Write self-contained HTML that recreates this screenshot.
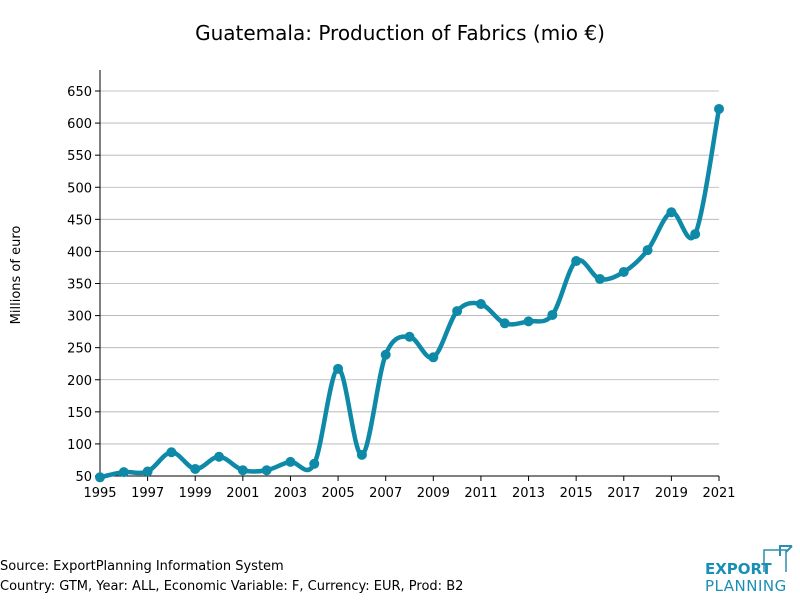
<!DOCTYPE html>
<html><head><meta charset="utf-8"><style>
body{margin:0;background:#fff;font-family:"DejaVu Sans","Liberation Sans",sans-serif;}
svg text{font-family:"DejaVu Sans","Liberation Sans",sans-serif;}
</style></head><body>
<svg width="800" height="600" xmlns="http://www.w3.org/2000/svg" id="chart">
<text x="400" y="40" text-anchor="middle" font-size="20">Guatemala: Production of Fabrics (mio €)</text>
<text transform="translate(20,275) rotate(-90)" text-anchor="middle" font-size="13">Millions of euro</text>
<g id="grid"></g><g id="axes"></g><g id="series"></g>
<text x="0" y="570" font-size="13">Source: ExportPlanning Information System</text>
<text x="0" y="590" font-size="13">Country: GTM, Year: ALL, Economic Variable: F, Currency: EUR, Prod: B2</text>
<g>
<path d="M764 572 V550 H786 V572" fill="none" stroke="#2a8fb0" stroke-width="1.5"/>
<path d="M780 556 V546 H792 M786 552 L792 546" fill="none" stroke="#2a8fb0" stroke-width="2"/>
<text x="705" y="574" font-size="15" font-weight="bold" fill="#1a8fb5">EXPORT</text>
<text x="705" y="591" font-size="15" fill="#1a8fb5" letter-spacing="0.5">PLANNING</text>
</g>
</svg>
<script>
const years=[1995,1996,1997,1998,1999,2000,2001,2002,2003,2004,2005,2006,2007,2008,2009,2010,2011,2012,2013,2014,2015,2016,2017,2018,2019,2020,2021];
const values=[48,56,57,87,61,80,59,59,72,69,217,83,239,267,235,307,318,288,291,301,385,357,368,402,461,427,622];
const yTicks=[50,100,150,200,250,300,350,400,450,500,550,600,650];
const xTicks=[1995,1997,1999,2001,2003,2005,2007,2009,2011,2013,2015,2017,2019,2021];
const NS='http://www.w3.org/2000/svg';
const X=v=>100+(v-1995)*(619/26);
const Y=v=>476-(v-50)*(385/600);
function mk(t,a,p){const e=document.createElementNS(NS,t);for(const k in a)e.setAttribute(k,a[k]);p.appendChild(e);return e;}
const grid=document.getElementById('grid'),axes=document.getElementById('axes'),ser=document.getElementById('series');
yTicks.forEach(v=>{
 const l=mk('line',{x1:100,x2:719,y1:Y(v),y2:Y(v),stroke:'#b0b0b0','stroke-width':0.8},grid);
 
 
 mk('line',{x1:95,x2:100,y1:Y(v),y2:Y(v),stroke:'#000'},axes);
 const t=mk('text',{x:92,y:Y(v)+5,'text-anchor':'end','font-size':13},axes);t.textContent=v;
 
 
});
xTicks.forEach(v=>{
 mk('line',{x1:X(v),x2:X(v),y1:476,y2:481,stroke:'#000'},axes);
 const t=mk('text',{x:X(v),y:497,'text-anchor':'middle','font-size':13},axes);t.textContent=v;
 
 
});
const ya=mk('line',{x1:100,x2:100,y1:70,y2:476,stroke:'#000'},axes);


const xa=mk('line',{x1:100,x2:719,y1:476,y2:476,stroke:'#000'},axes);


const P=years.map((y,i)=>[X(y),Y(values[i])]);
let d='M'+P[0][0]+' '+P[0][1];
for(let i=0;i<P.length-1;i++){
 const p0=P[Math.max(i-1,0)],p1=P[i],p2=P[i+1],p3=P[Math.min(i+2,P.length-1)];
 const c1=[p1[0]+(p2[0]-p0[0])/6,p1[1]+(p2[1]-p0[1])/6],c2=[p2[0]-(p3[0]-p1[0])/6,p2[1]-(p3[1]-p1[1])/6];
 d+=` C${c1[0]} ${c1[1]} ${c2[0]} ${c2[1]} ${p2[0]} ${p2[1]}`;
}
const line=mk('path',{d:d,fill:'none',stroke:'#0e8aa8','stroke-width':4.5,'stroke-linejoin':'round'},ser);


P.forEach((p,i)=>{
 const c=mk('circle',{cx:p[0],cy:p[1],r:5,fill:'#0e8aa8'},ser);
 
 
});
</script>
</body></html>
